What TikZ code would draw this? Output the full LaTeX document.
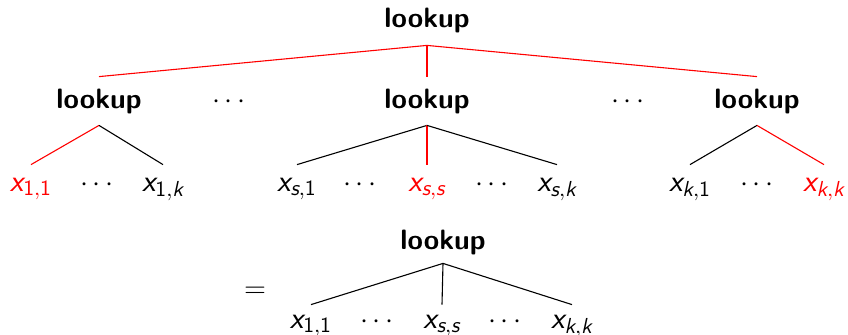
\documentclass[tikz,border=0pt]{standalone}
\DeclareMathAlphabet{\mathsfit}{TU}{lmss}{m}{sl}
\DeclareMathAlphabet{\mathsfup}{TU}{lmss}{m}{n}
\newcommand{\xv}[2]{$\mathsfit{x}_{#1,#2}$}
\newcommand{\one}{\mathsfup{1}}
\newcommand{\vs}{\mathsfit{s}}
\newcommand{\vk}{\mathsfit{k}}
\begin{document}
\begin{tikzpicture}[x=0.5pt,y=-0.5pt,
  base/.style={inner xsep=1pt, text height=10pt, text depth=3pt, font=\fontsize{14}{17}\selectfont},
  lk/.style={base, inner ysep=5.5pt, font=\fontsize{14}{17}\selectfont\sffamily\bfseries},
  leaf/.style={base, text height=9pt, inner ysep=4pt, font=\fontsize{15.5}{18}\selectfont},
  conn/.style={line width=0.55pt, draw=black},
  hot/.style={conn, draw=red}]
\useasboundingbox (0,0) rectangle (848,334);
% top level
\node[lk, inner ysep=6pt] (top) at (427,20) {lookup};
\node[lk] (m1) at (99,101) {lookup};
\node[base] (d1) at (229,101) {$\cdots$};
\node[lk] (m2) at (427,101) {lookup};
\node[base] (d2) at (628,101) {$\cdots$};
\node[lk] (m3) at (757,101) {lookup};
% leaves
\node[leaf, text=red] (l11) at (31,185) {\xv{\one}{\one}};
\node[leaf] (ld1) at (97,185) {$\cdots$};
\node[leaf] (l1k) at (163,185) {\xv{\one}{\vk}};
\node[leaf] (ls1) at (297,185) {\xv{\vs}{\one}};
\node[leaf] (ld2) at (360,185) {$\cdots$};
\node[leaf, text=red] (lss) at (427,185) {\xv{\vs}{\vs}};
\node[leaf] (ld3) at (492,185) {$\cdots$};
\node[leaf] (lsk) at (557,185) {\xv{\vs}{\vk}};
\node[leaf] (lk1) at (690,185) {\xv{\vk}{\one}};
\node[leaf] (ld4) at (757,185) {$\cdots$};
\node[leaf, text=red] (lkk) at (824,185) {\xv{\vk}{\vk}};
% connectors
\draw[hot] (top.south) -- (m1.north);
\draw[hot] (top.south) -- (m2.north);
\draw[hot] (top.south) -- (m3.north);
\draw[hot] (m1.south) -- (l11.north);
\draw[conn] (m1.south) -- (l1k.north);
\draw[conn] (m2.south) -- (ls1.north);
\draw[hot] (m2.south) -- (lss.north);
\draw[conn] (m2.south) -- (lsk.north);
\draw[conn] (m3.south) -- (lk1.north);
\draw[hot] (m3.south) -- (lkk.north);
% bottom
\node[base] (eq) at (255,290) {$=$};
\node[lk, inner ysep=4pt] (bot) at (443,242) {lookup};
\node[leaf, inner ysep=2.5pt] (b1) at (311,322) {\xv{\one}{\one}};
\node[leaf, inner ysep=2.5pt] (bd1) at (377,322) {$\cdots$};
\node[leaf, inner ysep=2.5pt] (b2) at (442,322) {\xv{\vs}{\vs}};
\node[leaf, inner ysep=2.5pt] (bd2) at (505,322) {$\cdots$};
\node[leaf, inner ysep=2.5pt] (b3) at (572,322) {\xv{\vk}{\vk}};
\draw[conn] (bot.south) -- (b1.north);
\draw[conn] (bot.south) -- (b2.north);
\draw[conn] (bot.south) -- (b3.north);
\end{tikzpicture}
\end{document}
